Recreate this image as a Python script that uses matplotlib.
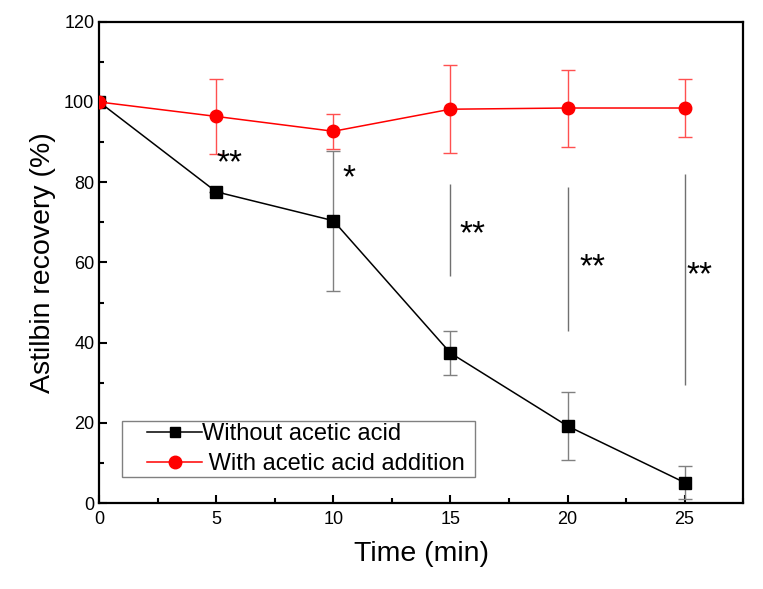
import matplotlib
import matplotlib.pyplot as plt
from matplotlib.lines import Line2D
from matplotlib.patches import Rectangle
from matplotlib.ticker import MultipleLocator

matplotlib.use("Agg")
plt.rcParams["font.family"] = ["Liberation Sans", "DejaVu Sans"]

time_min = [0, 5, 10, 15, 20, 25]

without_acid = [100, 77.6, 70.4, 37.4, 19.2, 5.1]
without_acid_err = [0, 0, 17.5, 5.4, 8.4, 4.2]

with_acid = [100, 96.4, 92.7, 98.2, 98.5, 98.5]
with_acid_err = [0, 9.3, 4.3, 11.0, 9.6, 7.3]

# significance bars: x, low, high
sig_x = [15, 20, 25]
sig_low = [56.5, 43.0, 29.4]
sig_high = [79.5, 78.8, 82.1]

star_x = [5.0, 10.4, 15.4, 20.5, 25.1]
star_y = [85.6, 81.8, 67.9, 59.6, 57.6]
star_text = ["**", "*", "**", "**", "**"]

fig, ax = plt.subplots(figsize=(7.63, 5.89), dpi=100)
fig.subplots_adjust(left=0.13, right=0.974, top=0.963, bottom=0.146)

ax.errorbar(time_min, without_acid, yerr=without_acid_err, color="black",
            ecolor="#808080", elinewidth=1.0, capsize=5, capthick=1.0,
            marker="s", markersize=8, linewidth=1.1, zorder=3)
ax.errorbar(time_min, with_acid, yerr=with_acid_err, color="#ff0000",
            ecolor="#ff5050", elinewidth=1.0, capsize=5, capthick=1.0,
            marker="o", markersize=9, linewidth=1.1, zorder=3)

ax.vlines(sig_x, sig_low, sig_high, color="#707070", linewidth=1.0)
for x, y, t in zip(star_x, star_y, star_text):
    # asterisks sit high in the glyph box, so anchor them a little lower
    ax.text(x, y - 1.0, t, fontsize=24, ha="left", va="center")

ax.set_xlim(0, 27.5)
ax.set_ylim(0, 120)
ax.xaxis.set_major_locator(MultipleLocator(5))
ax.xaxis.set_minor_locator(MultipleLocator(2.5))
ax.yaxis.set_major_locator(MultipleLocator(20))
ax.yaxis.set_minor_locator(MultipleLocator(10))
ax.tick_params(which="both", direction="in", labelsize=13, width=1.5)
ax.tick_params(which="major", length=6)
ax.tick_params(which="minor", length=3.5)
ax.tick_params(axis="x", pad=6)
for spine in ax.spines.values():
    spine.set_linewidth(1.6)

ax.set_xlabel("Time (min)", fontsize=20.5, labelpad=9)
ax.set_ylabel("Astilbin recovery (%)", fontsize=20.5, labelpad=6)

# legend frame drawn separately so the box can be wider than its contents
ax.add_patch(Rectangle((0.036, 0.054), 0.548, 0.116, transform=ax.transAxes,
                       facecolor="white", edgecolor="#808080", linewidth=1.0,
                       zorder=4))
handles = [
    Line2D([], [], color="black", marker="s", markersize=7, linewidth=1.1),
    Line2D([], [], color="#ff0000", marker="o", markersize=9, linewidth=1.1),
]
labels = ["Without acetic acid", " With acetic acid addition"]
leg = ax.legend(handles, labels, loc="center left", bbox_to_anchor=(0.075, 0.112),
                fontsize=17, frameon=False, handlelength=2.3, handletextpad=0.0,
                borderpad=0, labelspacing=0.35, borderaxespad=0)
leg.set_zorder(5)

fig.savefig("out.png", dpi=100)
